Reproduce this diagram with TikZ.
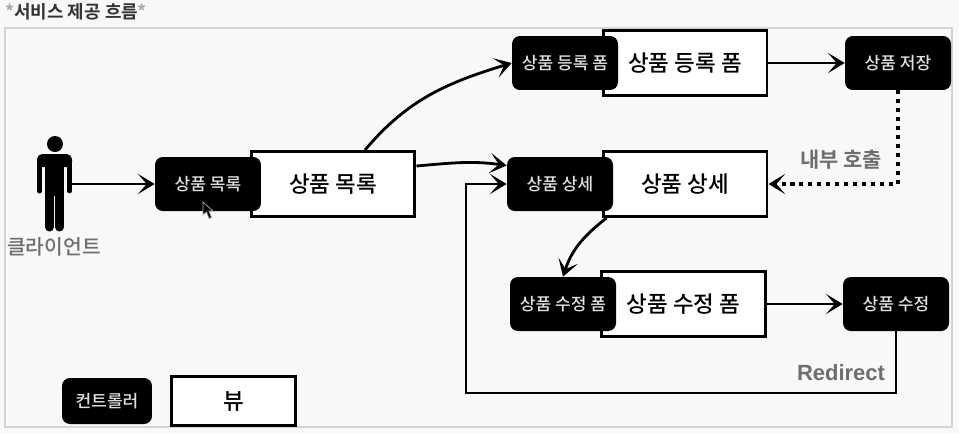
\documentclass[tikz,border=0pt]{standalone}
\usepackage{fontspec}
\setmainfont{Noto Sans CJK KR}[UprightFont=* Medium, BoldFont=* Bold]
\newfontfamily\latinfont{Liberation Sans}
\usepackage{xcolor}
\usetikzlibrary{arrows.meta}

\definecolor{pagegray}{HTML}{F8F8F8}
\definecolor{framegray}{HTML}{D4D4D4}
\definecolor{labelgray}{HTML}{6E6E6E}
\definecolor{stargray}{HTML}{A8A8A8}

\tikzset{
    ctrl/.style={fill=black, rounded corners=4.5pt, text=white!88!black, minimum width=2.12cm, minimum height=1.08cm, inner sep=0pt, font=\fontsize{9.7pt}{11pt}\selectfont},
    view/.style={draw=black, line width=1.7pt, fill=white, minimum width=3.28cm, minimum height=1.3cm, inner sep=0pt, font=\fontsize{12.8pt}{14pt}\selectfont},
    flow/.style={->, line width=1.6pt},
    note/.style={text=labelgray, inner sep=0pt, font=\fontsize{11.9pt}{13pt}\selectfont\bfseries},
}

\begin{document}
\begin{tikzpicture}[>={Stealth[length=9.5pt, width=11.5pt, inset=5pt]}, x=0.02cm, y=-0.02cm]

    % ==========================================
    % Page and frame
    % ==========================================
    \fill[pagegray] (0,0) rectangle (959,433);
    \useasboundingbox (0,0) rectangle (959,433);
    \draw[framegray, line width=0.6pt] (5,28) rectangle (952,427);
    \node[anchor=west, inner sep=0pt, font=\fontsize{10.2pt}{12pt}\selectfont\bfseries, text=black!80] (title) at (5,12) {\textcolor{stargray}{*}서비스 제공 흐름\textcolor{stargray}{*}};

    % ==========================================
    % Client
    % ==========================================
    \fill (55,144) circle (8);
    \fill[rounded corners=3pt] (37,154) rectangle (72,167);
    \fill (45,160) rectangle (64,196);
    \draw[line width=0.1cm, line cap=round] (39.5,160) -- (39.5,191);
    \draw[line width=0.09cm, line cap=round] (69.5,160) -- (69.5,191);
    \draw[line width=0.18cm, line cap=round] (49.5,190) -- (49.5,227);
    \draw[line width=0.18cm, line cap=round] (59.5,190) -- (59.5,227);
    \node[minimum width=0.7cm, minimum height=0.2cm, inner sep=0pt] (client) at (54.5,184) {};
    \node[text=labelgray, inner sep=0pt, font=\fontsize{11.6pt}{13pt}\selectfont] (clientLabel) at (54,247) {클라이언트};

    % ==========================================
    % Views
    % ==========================================
    \node[view] (listView) at (333,184) {상품 목록};
    \node[view] (formView) at (685,63) {상품 등록 폼};
    \node[view] (detailView) at (685,184) {상품 상세};
    \node[view] (editView) at (683.5,304) {상품 수정 폼};

    % ==========================================
    % Controllers
    % ==========================================
    \node[ctrl] (listCtrl) at (208,184) {상품 목록};
    \node[ctrl] (formCtrl) at (565,63) {상품 등록 폼};
    \node[ctrl] (saveCtrl) at (898,63) {상품 저장};
    \node[ctrl] (detailCtrl) at (560,184) {상품 상세};
    \node[ctrl] (editCtrl) at (563,304) {상품 수정 폼};
    \node[ctrl] (updateCtrl) at (896,304) {상품 수정};

    % mouse pointer
    \filldraw[fill=black, draw=white!70!black, line width=0.4pt] (203,202) -- (203,215) -- (206.5,212) -- (209,218.5) -- (211.5,217.5) -- (209,211) -- (213,211) -- cycle;

    % ==========================================
    % Flows
    % ==========================================
    \draw[flow] (client.east) -- (listCtrl.west);
    \draw[flow] ([xshift=0.64cm]listView.north) to[out=50, in=197] (formCtrl.west);
    \draw[flow] ([yshift=0.36cm]listView.east) to[out=5, in=172] ([yshift=0.37cm]detailCtrl.west);
    \draw[flow] (formView.east) -- (saveCtrl.west);
    \draw[flow] ([xshift=0.1cm]detailView.south west) to[out=218, in=72] (editCtrl.north);
    \draw[flow] (editView.east) -- (updateCtrl.west);

    % internal call
    \draw[->, line width=2.3pt, dash pattern=on 2.3pt off 2.8pt] (saveCtrl.south) |- (detailView.east);
    \node[note] (callLabel) at (841,160) {내부 호출};

    % redirect
    \coordinate (redirectCorner) at (466,393);
    \draw[flow, line width=1.3pt] (updateCtrl.south) |- (redirectCorner) |- (detailCtrl.west);
    \node[note, font=\fontsize{12.5pt}{13pt}\selectfont\bfseries\latinfont] (redirectLabel) at (841,373) {Redirect};

    % ==========================================
    % Legend
    % ==========================================
    \node[ctrl, minimum width=1.8cm, minimum height=0.92cm] (legendCtrl) at (107,401) {컨트롤러};
    \node[view, minimum width=2.5cm, minimum height=0.98cm] (legendView) at (233.5,401) {뷰};

\end{tikzpicture}
\end{document}
